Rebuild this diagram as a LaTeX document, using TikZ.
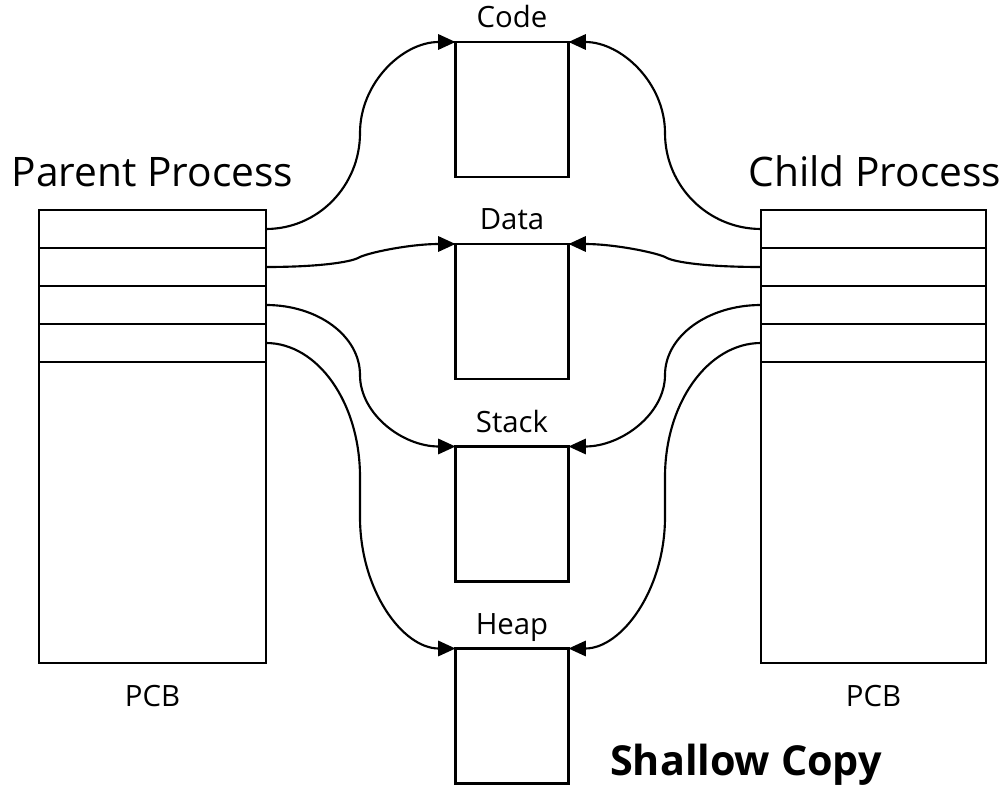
\documentclass[tikz,border=0pt]{standalone}
\usepackage{fontspec}
\setmainfont{Open Sans}
\usetikzlibrary{arrows.meta}
\begin{document}
\begin{tikzpicture}[x=0.75pt,y=-0.75pt,
  box/.style={draw, line width=1.7pt, inner sep=0pt, outer sep=0pt},
  prow/.style={box, minimum width=170.25pt, minimum height=28.5pt},
  crow/.style={box, minimum width=168.75pt, minimum height=28.5pt},
  mem/.style={box, minimum width=84.75pt, minimum height=101.25pt},
  link/.style={line width=1.6pt, -{Triangle[length=13pt,width=11.5pt]}},
  lbl/.style={font=\fontsize{22}{26}\selectfont, anchor=base, inner sep=0pt},
  ttl/.style={font=\fontsize{30.5}{36}\selectfont, anchor=base, inner sep=0pt}]
\useasboundingbox (0,0) rectangle (1008,791);

% parent PCB: four fields and the rest of the block
\node[prow] (p1) at (152.5,229) {};
\node[prow] (p2) at (152.5,267) {};
\node[prow] (p3) at (152.5,305) {};
\node[prow] (p4) at (152.5,343) {};
\node[prow, minimum height=225.75pt] (pb) at (152.5,512.5) {};

% child PCB
\node[crow] (c1) at (873.5,229) {};
\node[crow] (c2) at (873.5,267) {};
\node[crow] (c3) at (873.5,305) {};
\node[crow] (c4) at (873.5,343) {};
\node[crow, minimum height=225.75pt] (cb) at (873.5,512.5) {};

% shared memory segments
\node[mem] (code)  at (512,109.5) {};
\node[mem] (data)  at (512,311.5) {};
\node[mem] (stack) at (512,514) {};
\node[mem] (heap)  at (512,716) {};

% titles and labels
\node[ttl] (ptitle) at (152.5,187) {Parent Process};
\node[ttl] (ctitle) at (875,187) {Child Process};
\node[lbl] (ppcb) at (152.5,707) {PCB};
\node[lbl] (cpcb) at (873.5,707) {PCB};
\node[lbl] (lcode)  at ([yshift=10.5pt]code.north)  {Code};
\node[lbl] (ldata)  at ([yshift=10.5pt]data.north)  {Data};
\node[lbl] (lstack) at ([yshift=10.5pt]stack.north) {Stack};
\node[lbl] (lheap)  at ([yshift=10.5pt]heap.north)  {Heap};
\node[anchor=base, inner sep=0pt, font=\fontsize{31}{37}\selectfont\bfseries] (cap) at (746,776) {Shallow Copy};

% parent pointers
\draw[link] (p1.east) .. controls +(52,0) and +(0,53) .. ++(94,-96)
  .. controls +(0,-50) and +(-53,0) .. (code.north west);
\draw[link] (p2.east) .. controls +(54,0) and +(-8,4) .. ++(92,-9)
  .. controls +(8,-5) and +(-46,0) .. (data.north west);
\draw[link] (p3.east) .. controls +(52,0) and +(0,-39) .. ++(94,70)
  .. controls +(0,39) and +(-53,0) .. (stack.north west);
\draw[link] (p4.east) .. controls +(52,0) and +(0,-74) .. ++(94,134)
  -- ++(0,40) .. controls +(0,73) and +(-53,0) .. (heap.north west);

% child pointers
\draw[link] (c1.west) .. controls +(-53,0) and +(0,53) .. ++(-96,-96)
  .. controls +(0,-50) and +(53,0) .. (code.north east);
\draw[link] (c2.west) .. controls +(-56,0) and +(8,4) .. ++(-94,-9)
  .. controls +(-8,-5) and +(46,0) .. (data.north east);
\draw[link] (c3.west) .. controls +(-53,0) and +(0,-39) .. ++(-96,70)
  .. controls +(0,39) and +(53,0) .. (stack.north east);
\draw[link] (c4.west) .. controls +(-53,0) and +(0,-74) .. ++(-96,134)
  -- ++(0,40) .. controls +(0,73) and +(53,0) .. (heap.north east);
\end{tikzpicture}
\end{document}
